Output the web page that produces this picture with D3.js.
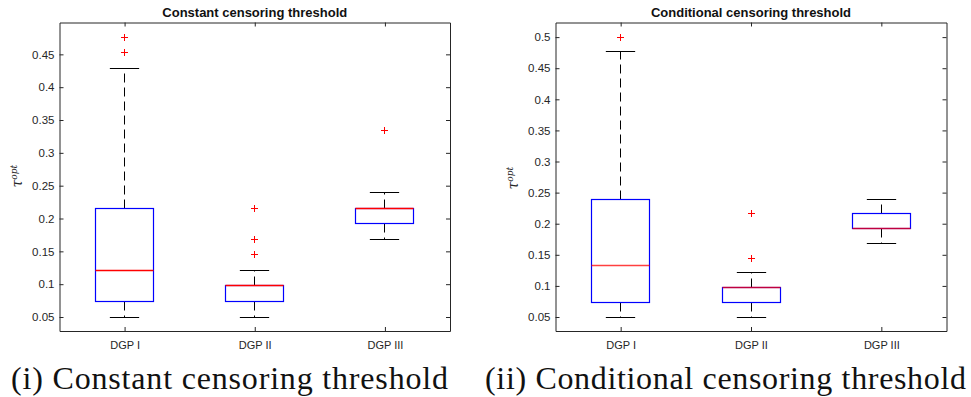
<!DOCTYPE html>
<html><head><meta charset="utf-8">
<script src="https://cdn.jsdelivr.net/npm/d3@7"></script>
<style>
html,body{margin:0;padding:0;background:#fff;}
svg{display:block;}
</style></head>
<body>
<svg id="chart" width="971" height="397"></svg>
<script>
// ---------- data ----------
const categories = ["DGP I", "DGP II", "DGP III"];

// Panel (i): constant censoring threshold
const constLowerWhisker = [0.05, 0.05, 0.1684];
const constQ1 = [0.0737, 0.0737, 0.1921];
const constMedian = [0.1211, 0.0974, 0.2158];
const constQ3 = [0.2158, 0.0974, 0.2158];
const constUpperWhisker = [0.4289, 0.1211, 0.2395];
const constOutliers = [[0.4526, 0.4763], [0.1447, 0.1447, 0.1684, 0.2158], [0.3342]];
const constYTicks = [0.05, 0.1, 0.15, 0.2, 0.25, 0.3, 0.35, 0.4, 0.45];
const constYDomain = [0.0287, 0.4985];

// Panel (ii): conditional censoring threshold
const condLowerWhisker = [0.05, 0.05, 0.1684];
const condQ1 = [0.0737, 0.0737, 0.1921];
const condMedian = [0.1329, 0.0974, 0.1921];
const condQ3 = [0.2395, 0.0974, 0.2158];
const condUpperWhisker = [0.4763, 0.1211, 0.2395];
const condOutliers = [[0.5], [0.1447, 0.1447, 0.2158], []];
const condYTicks = [0.05, 0.1, 0.15, 0.2, 0.25, 0.3, 0.35, 0.4, 0.45, 0.5];
const condYDomain = [0.0275, 0.5235];

const titles = ["Constant censoring threshold", "Conditional censoring threshold"];
const captions = ["(i) Constant censoring threshold", "(ii) Conditional censoring threshold"];

// ---------- drawing ----------
const svg = d3.select("#chart");
const axisColor = "#262626";
const snap = v => Math.round(v - 0.5) + 0.5;

const panels = [
  {title: titles[0], caption: captions[0], lo: constLowerWhisker, q1: constQ1, med: constMedian, q3: constQ3, hi: constUpperWhisker, out: constOutliers, ticks: constYTicks, dom: constYDomain,
   left: 59.5, right: 450, top: 22.5, bottom: 331, ylabX: 22, ylabY: 176, capX: 11, capW: 437, medOpacity: 1},
  {title: titles[1], caption: captions[1], lo: condLowerWhisker, q1: condQ1, med: condMedian, q3: condQ3, hi: condUpperWhisker, out: condOutliers, ticks: condYTicks, dom: condYDomain,
   left: 555.5, right: 946.5, top: 22.5, bottom: 331, ylabX: 518, ylabY: 178, capX: 485, capW: 481, medOpacity: 0.75}
];

panels.forEach((p, pi) => {
  const g = svg.append("g");
  const x = d3.scaleLinear().domain([0.5, categories.length + 0.5]).range([p.left, p.right]);
  const y = d3.scaleLinear().domain(p.dom).range([p.bottom, p.top]);
  const unit = x(1) - x(0);
  const boxW = 0.45 * unit, capW = 0.225 * unit;
  const tickLen = 4;

  // axes (MATLAB box style, ticks inside on all sides)
  const yAxisL = d3.axisLeft(y).tickValues(p.ticks).tickFormat(d3.format("")).tickSizeInner(-tickLen).tickSizeOuter(0).tickPadding(5);
  const yAxisR = d3.axisRight(y).tickValues(p.ticks).tickFormat("").tickSizeInner(-tickLen).tickSizeOuter(0);
  const xAxisB = d3.axisBottom(x).tickValues(categories.map((c, i) => i + 1)).tickFormat((d) => categories[d - 1]).tickSizeInner(-tickLen).tickSizeOuter(0).tickPadding(10);
  const xAxisT = d3.axisTop(x).tickValues(categories.map((c, i) => i + 1)).tickFormat("").tickSizeInner(-tickLen).tickSizeOuter(0);

  const gl = g.append("g").attr("transform", `translate(${p.left},0)`).call(yAxisL);
  const gr = g.append("g").attr("transform", `translate(${p.right},0)`).call(yAxisR);
  const gb = g.append("g").attr("transform", `translate(0,${p.bottom})`).call(xAxisB);
  const gt = g.append("g").attr("transform", `translate(0,${p.top})`).call(xAxisT);
  [gl, gr, gb, gt].forEach(a => {
    a.select(".domain").attr("stroke", axisColor).attr("stroke-width", 1);
    a.selectAll(".tick line").attr("stroke", axisColor).attr("stroke-width", 1);
    a.selectAll("text").attr("fill", axisColor).attr("font-family", "'Liberation Sans', Arial, sans-serif");
  });
  gl.selectAll("text").attr("font-size", "11.5px");
  gb.selectAll("text").attr("font-size", "11px");

  // title
  g.append("text").attr("x", (p.left + p.right) / 2).attr("y", 17)
    .attr("text-anchor", "middle").attr("font-family", "'Liberation Sans', Arial, sans-serif")
    .attr("font-weight", "bold").attr("font-size", "13px").attr("fill", "#111").text(p.title);

  // y label  tau^opt (positioned manually by measured width)
  const yl = g.append("text").attr("text-anchor", "start").attr("fill", axisColor)
    .attr("font-family", "'DejaVu Serif', 'Liberation Serif', serif").attr("font-style", "italic");
  yl.append("tspan").attr("font-size", "14px").text("τ");
  yl.append("tspan").attr("font-size", "9px").attr("dy", "-5").text("opt");
  const w = yl.node().getBBox().width;
  yl.attr("x", -w / 2).attr("transform", `translate(${p.ylabX},${p.ylabY}) rotate(-90)`);

  // boxes
  categories.forEach((c, i) => {
    const cx = snap(x(i + 1));
    const bg = g.append("g");
    const yq1 = snap(y(p.q1[i])), yq3 = snap(y(p.q3[i]));
    const yhi = snap(y(p.hi[i])), ylo = snap(y(p.lo[i])), ymed = snap(y(p.med[i]));
    // whiskers (dashed)
    bg.append("line").attr("x1", cx).attr("x2", cx).attr("y1", yq3).attr("y2", yhi)
      .attr("stroke", "#000").attr("stroke-width", 1).attr("stroke-dasharray", "9,5");
    bg.append("line").attr("x1", cx).attr("x2", cx).attr("y1", yq1).attr("y2", ylo)
      .attr("stroke", "#000").attr("stroke-width", 1).attr("stroke-dasharray", "9,5");
    // caps
    [yhi, ylo].forEach(v => {
      bg.append("line").attr("x1", cx - capW / 2).attr("x2", cx + capW / 2).attr("y1", v).attr("y2", v)
        .attr("stroke", "#000").attr("stroke-width", 1);
    });
    // box
    const bx0 = snap(cx - boxW / 2), bx1 = snap(cx + boxW / 2);
    bg.append("rect").attr("x", bx0).attr("width", bx1 - bx0)
      .attr("y", yq3).attr("height", yq1 - yq3)
      .attr("fill", "none").attr("stroke", "#0000ff").attr("stroke-width", 1.2);
    // median
    bg.append("line").attr("x1", bx0).attr("x2", bx1).attr("y1", ymed).attr("y2", ymed)
      .attr("stroke", "#ff0000").attr("stroke-opacity", p.medOpacity).attr("stroke-width", 1.4);
    // outliers
    const ms = 3.5;
    p.out[i].forEach(v => {
      const oy = snap(y(v));
      bg.append("path").attr("d", `M${cx - ms},${oy}H${cx + ms}M${cx},${oy - ms}V${oy + ms}`)
        .attr("stroke", "#ff0000").attr("stroke-width", 1).attr("fill", "none");
    });
  });

  // caption: stretched by letter spacing to the target width
  svg.append("text").attr("x", p.capX).attr("y", 389)
    .attr("font-family", "'Liberation Serif', 'DejaVu Serif', serif")
    .attr("font-size", "32px").attr("fill", "#111")
    .attr("textLength", p.capW).attr("lengthAdjust", "spacing")
    .text(p.caption);
});
</script>
</body></html>
